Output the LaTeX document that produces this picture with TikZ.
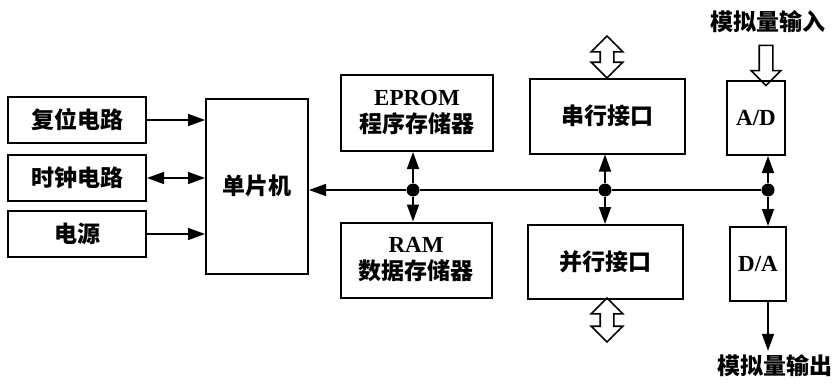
\documentclass[tikz,border=0pt]{standalone}
\usepackage{fontspec}
\setmainfont{Liberation Serif}
\newfontfamily\cjk{Noto Sans CJK SC}
\usetikzlibrary{arrows.meta,shapes.arrows}

\begin{document}
\begin{tikzpicture}[x=1pt, y=-1pt, line width=1.6pt, >={Triangle[length=17pt,width=12pt]},
    box/.style={draw, line width=2pt, inner sep=0pt, align=center, font=\fontsize{23}{27}\selectfont\bfseries},
    lbl/.style={font=\fontsize{23}{27}\selectfont\bfseries\cjk},
    dot/.style={circle, fill, inner sep=0pt, minimum size=13pt},
    hollow/.style={draw, line width=1.6pt, inner sep=6pt}]
    \useasboundingbox (0,0) rectangle (835,383);

    % peripherals on the left
    \node[box, minimum width=138pt, minimum height=46pt] (reset) at (77,120) {\cjk 复位电路};
    \node[box, minimum width=138pt, minimum height=46pt] (clock) at (77,178) {\cjk 时钟电路};
    \node[box, minimum width=138pt, minimum height=46pt] (power) at (77,234) {\cjk 电源};
    \node[box, minimum width=102pt, minimum height=175pt] (mcu) at (257,186) {\cjk 单片机};

    % memories and interfaces
    \node[box, minimum width=152pt, minimum height=76pt] (eprom) at (417,113) {EPROM\\{\cjk 程序存储器}};
    \node[box, minimum width=151pt, minimum height=75pt] (ram) at (416,260) {RAM\\{\cjk 数据存储器}};
    \node[box, minimum width=155pt, minimum height=75pt] (serial) at (607,116) {\cjk 串行接口};
    \node[box, minimum width=155pt, minimum height=74pt] (parallel) at (605,262) {\cjk 并行接口};
    \node[box, minimum width=58pt, minimum height=74pt] (ad) at (756,118) {A/D};
    \node[box, minimum width=56pt, minimum height=74pt] (da) at (758,264) {D/A};

    % bus junctions
    \node[dot] (j1) at (413,190) {};
    \node[dot] (j2) at (605,190) {};
    \node[dot] (j3) at (768,190) {};

    \draw[->] (j1) -- (j1 -| mcu.east);
    \draw (j1) -- (j2) -- (j3);
    \draw[->] (j1) -- (j1 |- eprom.south);
    \draw[->] (j1) -- (j1 |- ram.north);
    \draw[->] (j2) -- (j2 |- serial.south);
    \draw[->] (j2) -- (j2 |- parallel.north);
    \draw[->] (j3) -- (j3 |- ad.south);
    \draw[->] (j3) -- (j3 |- da.north);

    \draw[->] (reset.east) -- (reset.east -| mcu.west);
    \draw[<->] (clock.east) -- (clock.east -| mcu.west);
    \draw[->] (power.east) -- (power.east -| mcu.west);

    % external ports
    \node[hollow, double arrow, shape border rotate=90, minimum height=42pt, double arrow head extend=9pt] (sport) at (607,57) {};
    \node[hollow, double arrow, shape border rotate=90, minimum height=44pt, double arrow head extend=9pt] (pport) at (607,320) {};

    \node[lbl] (ain) at (768,22) {模拟量输入};
    \node[hollow, single arrow, shape border rotate=270, minimum height=40pt, single arrow head extend=8pt] (ainarr) at (766,62) {};
    \node[lbl] (aout) at (775,366) {模拟量输出};
    \draw[->] (da.south -| j3) -- (j3 |- aout.north);
\end{tikzpicture}
\end{document}
